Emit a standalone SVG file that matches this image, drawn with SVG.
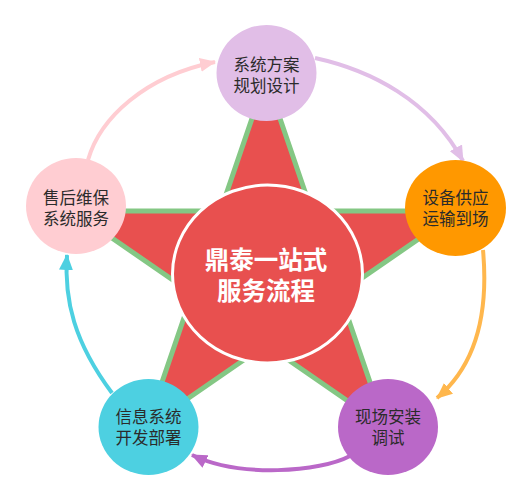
<svg xmlns="http://www.w3.org/2000/svg" width="532" height="500" viewBox="0 0 532 500">
<defs>
<style>
.node-text{font-family:"Noto Sans CJK SC","Noto Sans",sans-serif;font-size:16.5px;fill:#2b2b2b;text-anchor:middle;}
.center-text{font-family:"Noto Sans CJK SC","Noto Sans",sans-serif;font-size:24.5px;font-weight:bold;fill:#ffffff;text-anchor:middle;}
.conn{fill:none;stroke-width:4;}
</style>
<marker id="arr-lilac" viewBox="0 0 16 14" refX="15" refY="7" markerWidth="16" markerHeight="14" markerUnits="userSpaceOnUse" orient="auto"><path d="M0,0 L16,7 L0,14 z" fill="#E1BEE7"/></marker>
<marker id="arr-orange" viewBox="0 0 16 14" refX="15" refY="7" markerWidth="16" markerHeight="14" markerUnits="userSpaceOnUse" orient="auto"><path d="M0,0 L16,7 L0,14 z" fill="#FFB74D"/></marker>
<marker id="arr-purple" viewBox="0 0 16 14" refX="15" refY="7" markerWidth="16" markerHeight="14" markerUnits="userSpaceOnUse" orient="auto"><path d="M0,0 L16,7 L0,14 z" fill="#BA68C8"/></marker>
<marker id="arr-cyan" viewBox="0 0 16 14" refX="15" refY="7" markerWidth="16" markerHeight="14" markerUnits="userSpaceOnUse" orient="auto"><path d="M0,0 L16,7 L0,14 z" fill="#4DD0E1"/></marker>
<marker id="arr-pink" viewBox="0 0 16 14" refX="15" refY="7" markerWidth="16" markerHeight="14" markerUnits="userSpaceOnUse" orient="auto"><path d="M0,0 L16,7 L0,14 z" fill="#FFCDD2"/></marker>
</defs>
<rect width="532" height="500" fill="#ffffff"/>

<g id="star">
<polygon points="266,77.5 311.6,211 459.1,211 339.7,293.5 385.3,427 266,344.5 146.7,427 192.3,293.5 72.9,211 220.4,211" fill="#E8504F" stroke="#84C784" stroke-width="5" stroke-linejoin="miter"/>
</g>

<g id="center">
<ellipse cx="267.5" cy="274" rx="95" ry="89" fill="#E8504F" stroke="#ffffff" stroke-width="3"/>
<text class="center-text" x="266" y="268.5">鼎泰一站式<tspan x="266" dy="31">服务流程</tspan></text>
</g>

<g id="connectors">
<path class="conn" d="M315,58 C370,70 430,100 463,161" stroke="#E1BEE7" marker-end="url(#arr-lilac)"/>
<path class="conn" d="M483,250 C488,305 480,362 437,398" stroke="#FFB74D" marker-end="url(#arr-orange)"/>
<path class="conn" d="M350,456 C320,472 240,478 192,455" stroke="#BA68C8" marker-end="url(#arr-purple)"/>
<path class="conn" d="M112,393 C74,342 64,300 67,255" stroke="#4DD0E1" marker-end="url(#arr-cyan)"/>
<path class="conn" d="M88,160 C100,118 145,76 215,62" stroke="#FFCDD2" marker-end="url(#arr-pink)"/>
</g>

<g id="node-plan">
<ellipse cx="266.5" cy="73" rx="50" ry="48" fill="#E1BEE7"/>
<text class="node-text" x="266.5" y="71">系统方案<tspan x="266.5" dy="21">规划设计</tspan></text>
</g>

<g id="node-supply">
<ellipse cx="455.5" cy="208" rx="50.5" ry="48" fill="#FF9800"/>
<text class="node-text" x="455.5" y="204">设备供应<tspan x="455.5" dy="21">运输到场</tspan></text>
</g>

<g id="node-install">
<ellipse cx="388" cy="427" rx="50" ry="48" fill="#BA68C8"/>
<text class="node-text" x="388" y="423">现场安装<tspan x="388" dy="21">调试</tspan></text>
</g>

<g id="node-dev">
<ellipse cx="148.5" cy="427" rx="50" ry="48" fill="#4DD0E1"/>
<text class="node-text" x="148.5" y="423">信息系统<tspan x="148.5" dy="21">开发部署</tspan></text>
</g>

<g id="node-service">
<ellipse cx="76" cy="206" rx="50" ry="48" fill="#FFCDD2"/>
<text class="node-text" x="76" y="204">售后维保<tspan x="76" dy="21">系统服务</tspan></text>
</g>
</svg>
